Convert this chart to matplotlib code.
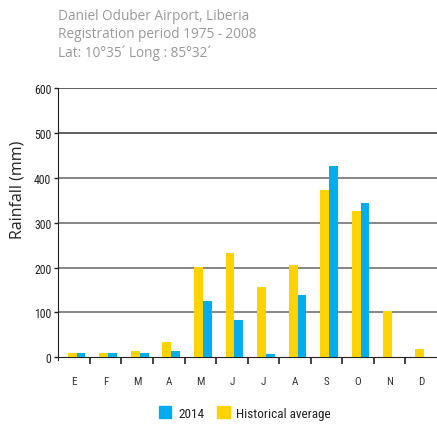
import numpy as np
import matplotlib.pyplot as plt
from matplotlib.patches import Patch
from matplotlib import font_manager

months = ["E", "F", "M", "A", "M", "J", "J", "A", "S", "O", "N", "D"]
rain_2014 = [10, 10, 10, 14, 125, 83, 7, 139, 427, 345, 0, 0]
rain_hist = [10, 10, 14, 34, 201, 232, 156, 205, 374, 327, 103, 18]

title_lines = ["Daniel Oduber Airport, Liberia",
               "Registration period 1975 - 2008",
               "Lat: 10°35´ Long : 85°32´"]

BLUE = "#00AEEF"
YELLOW = "#FFD200"

# pick a narrow face if one is installed
names = {f.name for f in font_manager.fontManager.ttflist}
narrow = [n for n in ["Roboto Condensed", "Liberation Sans Narrow", "DejaVu Sans Condensed", "Roboto"]
          if n in names] + ["DejaVu Sans"]

fig = plt.figure(figsize=(4.37, 4.27), dpi=100)
ax = fig.add_axes([58.3 / 437, 1 - 358.3 / 427, 1 - 58.3 / 437, (358.3 - 89.3) / 427])

x = np.arange(len(months))
w = 0.28
ax.bar(x - w / 2 + 0.08, rain_hist, width=w, color=YELLOW, zorder=3)
ax.bar(x + w / 2 + 0.08, rain_2014, width=w, color=BLUE, zorder=3)

ax.set_xlim(-0.5, 11.5)
ax.set_ylim(0, 600)
ax.set_yticks(range(0, 601, 100))
for v in range(100, 601, 100):
    ax.axhline(v, color="#333333" if v > 400 else "#666666", lw=1.1, zorder=1)

for s in ["top", "right"]:
    ax.spines[s].set_visible(False)
ax.spines["left"].set_color("#222222")
ax.spines["bottom"].set_color("#222222")
ax.spines["left"].set_bounds(-7, 600)

ax.tick_params(axis="y", length=3, width=1, color="#222222", pad=2)
ax.set_yticklabels([str(v) for v in range(0, 601, 100)], family=narrow, fontsize=8.5, color="#222222")

ax.set_xticks(np.arange(0.5, 11.5, 1))
ax.set_xticklabels([])
ax.tick_params(axis="x", length=5, width=1.2, color="#222222", direction="out")
for i, m in enumerate(months):
    ax.text(i, -52, m, ha="center", va="center", family=narrow, fontsize=8, color="#333333")

fig.text(18 / 437, 1 - 190 / 427, "Rainfall (mm)", rotation=90, ha="center", va="center",
         family="Open Sans", fontsize=11.5, color="#222222")

for i, line in enumerate(title_lines):
    fig.text(58 / 437, 1 - (17 + 18 * i) / 427, line, ha="left", va="center",
             family="Open Sans", fontsize=9.8, color="#999999")

handles = [Patch(color=BLUE, label="2014"), Patch(color=YELLOW, label="Historical average")]
leg = fig.legend(handles=handles, loc="center", bbox_to_anchor=(245 / 437, 1 - 414 / 427), ncol=2,
                 frameon=False, handlelength=0.95, handleheight=0.95, handletextpad=0.5,
                 columnspacing=1.0, prop={"family": narrow, "size": 9.5})
for t in leg.get_texts():
    t.set_color("#222222")

fig.savefig("out.png", dpi=100)
